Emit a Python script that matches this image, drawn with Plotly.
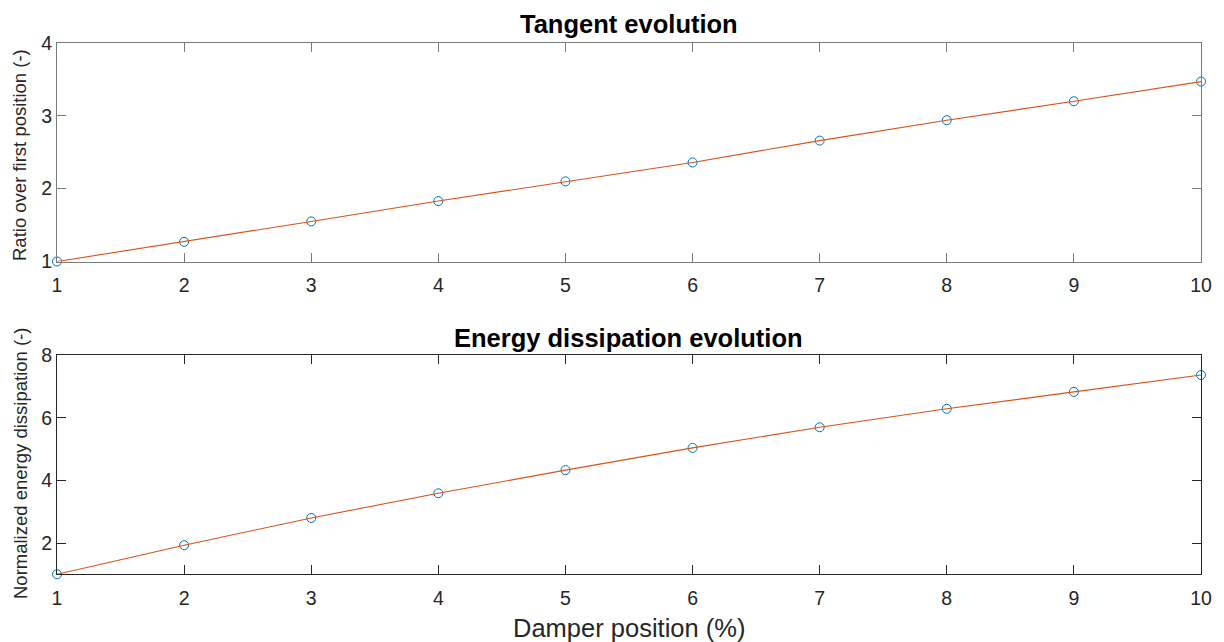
import plotly.graph_objects as go

positions = [1, 2, 3, 4, 5, 6, 7, 8, 9, 10]
tangent_ratio = [1.00, 1.27, 1.55, 1.83, 2.10, 2.36, 2.66, 2.94, 3.20, 3.47]
energy_norm = [1.00, 1.93, 2.80, 3.59, 4.33, 5.04, 5.70, 6.29, 6.83, 7.37]

top_title = "Tangent evolution"
bottom_title = "Energy dissipation evolution"
top_ylabel = "Ratio over first position (-)"
bottom_ylabel = "Normalized energy dissipation (-)"
xlabel = "Damper position (%)"

W, H = 1224, 642
BLUE = "#0072BD"
ORANGE = "#D95319"
FONT = "Liberation Sans, Arial, sans-serif"

fig = go.Figure()

for ys, xa, ya in [(tangent_ratio, "x", "y"), (energy_norm, "x2", "y2")]:
    fig.add_trace(go.Scatter(x=positions, y=ys, mode="markers", xaxis=xa, yaxis=ya,
                             marker=dict(symbol="circle-open", size=9, color=BLUE,
                                         line=dict(width=1, color=BLUE)),
                             cliponaxis=False, showlegend=False))
    fig.add_trace(go.Scatter(x=positions, y=ys, mode="lines", xaxis=xa, yaxis=ya,
                             line=dict(color=ORANGE, width=1.1),
                             cliponaxis=False, showlegend=False))

xd = [57 / W, 1201 / W]
top_dom = [(H - 261.5) / H, (H - 43) / H]
bot_dom = [(H - 574.3) / H, (H - 355.3) / H]

def ax(color, **kw):
    d = dict(showgrid=False, zeroline=False, showline=True, linecolor=color, linewidth=1,
             mirror="ticks", ticks="inside", ticklen=9, tickwidth=1, tickcolor=color,
             automargin=False,
             tickfont=dict(family=FONT, size=19.5, color="#262626"))
    d.update(kw)
    return d

fig.update_layout(
    width=W, height=H,
    margin=dict(l=0, r=0, t=0, b=0, autoexpand=False),
    paper_bgcolor="white", plot_bgcolor="white",
    xaxis=ax("#7a7a7a", domain=xd, range=[1, 10], dtick=1, tick0=1, anchor="y",
             ticklabelstandoff=6),
    yaxis=ax("#7a7a7a", domain=top_dom, range=[1, 4], dtick=1, tick0=1, anchor="x"),
    xaxis2=ax("#262626", domain=xd, range=[1, 10], dtick=1, tick0=1, anchor="y2",
              ticklabelstandoff=6),
    yaxis2=ax("#262626", domain=bot_dom, range=[1, 8], dtick=2, tick0=0, anchor="x2"),
)

def ann(text, x, y, size, bold=False, angle=0):
    fig.add_annotation(text=f"<b>{text}</b>" if bold else text, x=x / W, y=1 - y / H,
                       xref="paper", yref="paper", showarrow=False, textangle=angle,
                       xanchor="center", yanchor="middle",
                       font=dict(family=FONT, size=size, color="#000000" if bold else "#262626"))

ann(top_title, 629, 24, 25.5, bold=True)
ann(bottom_title, 629, 338, 25.5, bold=True)
ann(top_ylabel, 20, 155, 18.5, angle=-90)
ann(bottom_ylabel, 20, 464, 18.5, angle=-90)
ann(xlabel, 629, 628, 25.5)

fig.write_html("out.html", config={"displayModeBar": False},
               post_script="document.body.style.margin='0';document.body.style.overflow='hidden';")
